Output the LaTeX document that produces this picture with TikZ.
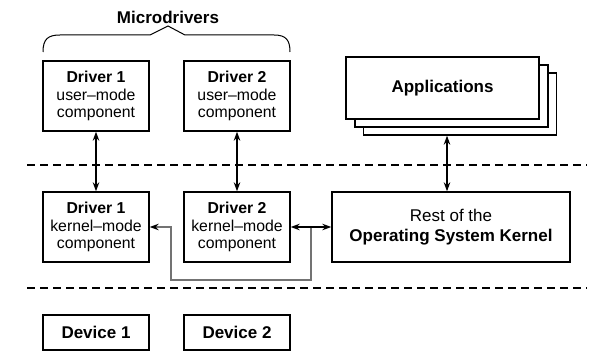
\documentclass[tikz,border=0pt]{standalone}
\usepackage{fontspec}
\setmainfont{Liberation Sans}
\usetikzlibrary{arrows.meta,calc}
\begin{document}
\begin{tikzpicture}[x=1pt,y=-1pt,
  box/.style={draw,line width=1.4pt,fill=white,minimum width=106pt,minimum height=70pt,inner sep=0pt,align=center,font=\fontsize{15.8}{17.8}\selectfont},
  devbox/.style={box,minimum height=35pt,font=\fontsize{17}{19}\selectfont\bfseries},
  bigbox/.style={draw,line width=1.4pt,fill=white,inner sep=0pt,align=center,font=\fontsize{17}{20}\selectfont},
  sep/.style={line width=2.4pt,dash pattern=on 8pt off 5pt},
  arr/.style={line width=1.1pt,{Stealth[length=9pt,width=6.5pt]}-{Stealth[length=9pt,width=6.5pt]}},
  garr/.style={line width=1.1pt,draw=black!55,-{Stealth[length=9pt,width=6.5pt,color=black]}}]
\useasboundingbox (0,0) rectangle (596,358);
% title and brace
\node[font=\fontsize{17}{20}\selectfont\bfseries] (title) at (168,17) {Microdrivers};
\draw[line width=1pt] (43,52) .. controls (43,39) and (48,35) .. (60,35) -- (150,35) -- (168,26) -- (185,35) -- (274,35) .. controls (286,35) and (290,40) .. (290,52);
% user-mode components
\node[box] (d1u) at (96,96) {\textbf{Driver 1}\\user–mode\\component};
\node[box] (d2u) at (237,96) {\textbf{Driver 2}\\user–mode\\component};
% applications stack
\node[bigbox,minimum width=193pt,minimum height=62pt] (app3) at (460,104) {};
\node[bigbox,minimum width=193pt,minimum height=62pt] (app2) at (451.5,96) {};
\node[bigbox,minimum width=193pt,minimum height=62pt,font=\fontsize{17}{20}\selectfont\bfseries] (app1) at (442.5,88) {Applications};
% separators
\coordinate (s1l) at (27,165); \coordinate (s1r) at (587,165);
\coordinate (s2l) at (27,288); \coordinate (s2r) at (587,288);
\draw[sep] (s1l) -- (s1r);
\draw[sep] (s2l) -- (s2r);
% kernel-mode components
\node[box] (d1k) at (96,227) {\textbf{Driver 1}\\kernel–mode\\component};
\node[box] (d2k) at (237,227) {\textbf{Driver 2}\\kernel–mode\\component};
\node[bigbox,minimum width=238pt,minimum height=70pt] (os) at (451,227) {Rest of the\\\textbf{Operating System Kernel}};
% devices
\node[devbox] (dev1) at (96,332.5) {Device 1};
\node[devbox] (dev2) at (237,332.5) {Device 2};
% connectors
\draw[arr] (d1u.south) -- (d1k.north);
\draw[arr] (d2u.south) -- (d2k.north);
\coordinate (ax) at (447,0);
\draw[arr] (app3.south -| ax) -- (os.north -| ax);
\coordinate (j) at ($(d2k.east)!0.5!(os.west)$);
\coordinate (g2) at (171,280);
\draw[garr] (j) |- (g2) |- (d1k.east);
\draw[arr] (d2k.east) -- (os.west);
\end{tikzpicture}
\end{document}
